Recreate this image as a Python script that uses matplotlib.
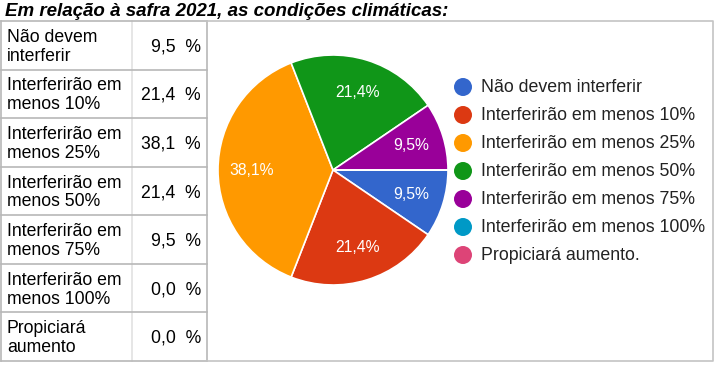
import matplotlib
matplotlib.use("Agg")
import matplotlib.pyplot as plt
from matplotlib.patches import Circle

plt.rcParams['font.family'] = ['Liberation Sans', 'DejaVu Sans']

title = "Em relação à safra 2021, as condições climáticas:"
table_labels = ["Não devem\ninterferir", "Interferirão em\nmenos 10%", "Interferirão em\nmenos 25%",
                "Interferirão em\nmenos 50%", "Interferirão em\nmenos 75%", "Interferirão em\nmenos 100%",
                "Propiciará\naumento"]
legend_labels = ["Não devem interferir", "Interferirão em menos 10%", "Interferirão em menos 25%",
                 "Interferirão em menos 50%", "Interferirão em menos 75%", "Interferirão em menos 100%",
                 "Propiciará aumento."]
values = [9.5, 21.4, 38.1, 21.4, 9.5, 0.0, 0.0]
colors = ["#3366cc", "#dc3912", "#ff9900", "#109618", "#990099", "#0099c6", "#dd4477"]

W, H = 719, 365
fig = plt.figure(figsize=(W / 100, H / 100), dpi=100)
fig.patch.set_facecolor("white")

ov = fig.add_axes([0, 0, 1, 1])
ov.set_xlim(0, W)
ov.set_ylim(H, 0)
ov.axis("off")

ov.text(5, 11, title, fontsize=13.5, fontweight="bold", fontstyle="italic",
        va="center", ha="left", color="black")

grid = "#b8b8b8"
light = "#e2e2e2"
top, bottom = 21, 361
n = len(table_labels)
rowh = (bottom - top) / n
c0, c1, c2, c3 = 1, 132, 207, 713
ov.plot([c1, c1], [top, bottom], color=light, lw=1.2)
for i in range(n + 1):
    y = top + i * rowh
    ov.plot([c0, c2], [y, y], color=grid, lw=1.2)
for x in (c0, c2):
    ov.plot([x, x], [top, bottom], color=grid, lw=1.2)
ov.plot([c2, c3, c3, c2], [top, top, bottom, bottom], color="#c4c4c4", lw=1.2)

for i, (lab, v) in enumerate(zip(table_labels, values)):
    yc = top + (i + 0.5) * rowh + 1.5
    ov.text(7, yc, lab, fontsize=12.7, va="center", ha="left", linespacing=1.15)
    ov.text(201, yc, f"{v:.1f}".replace(".", ",") + "  %", fontsize=12.7, va="center", ha="right")

ly0, lstep = 87, 28
for i, (lab, col) in enumerate(zip(legend_labels, colors)):
    y = ly0 + i * lstep
    ov.add_patch(Circle((463, y), 9, color=col, lw=0))
    ov.text(481, y, lab, fontsize=12.8, va="center", ha="left", color="#222222")

cx, cy, r = 333, 170, 115
pax = fig.add_axes([(cx - r) / W, (H - cy - r) / H, 2 * r / W, 2 * r / H])
wedges, texts, autotexts = pax.pie(
    values, colors=colors, startangle=0, counterclock=False,
    autopct=lambda p: (f"{p:.1f}".replace(".", ",") + "%") if p > 0 else "",
    pctdistance=0.71, wedgeprops=dict(edgecolor="white", linewidth=1.2),
    textprops=dict(color="white", fontsize=11.3))
pax.set_xlim(-1, 1)
pax.set_ylim(-1, 1)
pax.set_aspect("equal")
pax.axis("off")

fig.savefig("out.png", dpi=100, facecolor="white")
